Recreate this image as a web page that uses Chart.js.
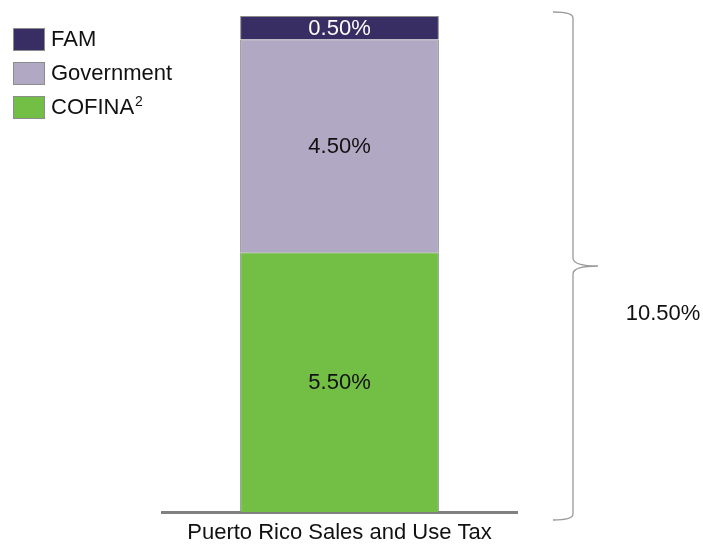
<!DOCTYPE html>
<html>
<head>
<meta charset="utf-8">
<script src="https://cdn.jsdelivr.net/npm/chart.js@4"></script>
<style>
  html, body { margin: 0; padding: 0; background: #fff; }
  #wrap { width: 703px; height: 547px; }
</style>
</head>
<body>
<div id="wrap"><canvas id="tax-chart" width="703" height="547"></canvas></div>
<script>
// Sales and use tax split
const categories = ['Puerto Rico Sales and Use Tax'];
const cofinaValues = [5.5];
const governmentValues = [4.5];
const famValues = [0.5];
const totalLabel = '10.50%';

const FONT = '"Liberation Sans", Arial, sans-serif';

// legend drawn by hand so the superscript on COFINA works
const legendPlugin = {
    id: 'handLegend',
    afterDraw(chart) {
        const ctx = chart.ctx;
        const items = [
            { text: 'FAM', sup: '', color: chart.data.datasets[2].backgroundColor },
            { text: 'Government', sup: '', color: chart.data.datasets[1].backgroundColor },
            { text: 'COFINA', sup: '2', color: chart.data.datasets[0].backgroundColor }
        ];
        ctx.save();
        items.forEach((it, i) => {
            const y = 28 + i * 34;
            ctx.fillStyle = it.color;
            ctx.fillRect(13, y, 32, 23);
            ctx.strokeStyle = '#8c8c8c';
            ctx.lineWidth = 1;
            ctx.strokeRect(13.5, y + 0.5, 31, 22);
            ctx.fillStyle = '#111';
            ctx.font = '22px ' + FONT;
            ctx.textBaseline = 'middle';
            ctx.textAlign = 'left';
            ctx.fillText(it.text, 51, y + 12);
            if (it.sup) {
                const w = ctx.measureText(it.text).width;
                ctx.font = '14px ' + FONT;
                ctx.fillText(it.sup, 51 + w + 1, y + 6);
            }
        });
        ctx.restore();
    }
};

// value labels inside segments
const valueLabels = {
    id: 'valueLabels',
    afterDatasetsDraw(chart) {
        const ctx = chart.ctx;
        ctx.save();
        ctx.font = '22px ' + FONT;
        ctx.textAlign = 'center';
        ctx.textBaseline = 'middle';
        chart.data.datasets.forEach((ds, i) => {
            chart.getDatasetMeta(i).data.forEach((el, j) => {
                ctx.fillStyle = i === 2 ? '#ffffff' : '#111111';
                ctx.fillText(ds.data[j].toFixed(2) + '%', el.x, (el.y + el.base) / 2 + 1);
            });
        });
        ctx.restore();
    }
};

// curly brace with total on the right
const bracePlugin = {
    id: 'brace',
    afterDraw(chart) {
        const ctx = chart.ctx;
        const area = chart.chartArea;
        const yScale = chart.scales.y;
        const top = yScale.getPixelForValue(yScale.max) - 4;
        const bottom = area.bottom + 8;
        const mid = (top + bottom) / 2;
        const x = area.right + 56;
        const x0 = x - 20;
        const tip = x + 25;
        ctx.save();
        ctx.strokeStyle = '#9a9a9a';
        ctx.lineWidth = 1.3;
        ctx.beginPath();
        ctx.moveTo(x0, top);
        ctx.quadraticCurveTo(x, top, x, top + 6);
        ctx.lineTo(x, mid - 8);
        ctx.quadraticCurveTo(x, mid, tip, mid);
        ctx.quadraticCurveTo(x, mid, x, mid + 8);
        ctx.lineTo(x, bottom - 6);
        ctx.quadraticCurveTo(x, bottom, x0, bottom);
        ctx.stroke();
        ctx.fillStyle = '#111';
        ctx.font = '22px ' + FONT;
        ctx.textAlign = 'center';
        ctx.textBaseline = 'middle';
        ctx.fillText(totalLabel, area.right + 146, mid + 48);
        ctx.restore();
    }
};

const taxCtx = document.getElementById('tax-chart').getContext('2d');
const taxChart = new Chart(taxCtx, {
    type: 'bar',
    data: {
        labels: categories,
        datasets: [{
            label: 'COFINA',
            data: cofinaValues,
            backgroundColor: '#73bf45',
            borderColor: '#8c8c8c',
            borderWidth: 1
        }, {
            label: 'Government',
            data: governmentValues,
            backgroundColor: '#b1a8c4',
            borderColor: '#8c8c8c',
            borderWidth: 1
        }, {
            label: 'FAM',
            data: famValues,
            backgroundColor: '#392e63',
            borderColor: '#8c8c8c',
            borderWidth: 1
        }]
    },
    options: {
        responsive: false,
        animation: false,
        layout: { padding: { left: 162, right: 186, top: 16, bottom: 0 } },
        datasets: { bar: { categoryPercentage: 1, barPercentage: 0.56 } },
        plugins: {
            legend: { display: false },
            tooltip: { enabled: false }
        },
        scales: {
            x: {
                stacked: true,
                grid: { display: false },
                border: { color: '#808080', width: 3 },
                ticks: { color: '#111', font: { family: FONT, size: 22 }, padding: 0 },
                afterFit: s => { s.height = 35; }
            },
            y: {
                stacked: true,
                display: false,
                min: 0,
                max: 10.5
            }
        }
    },
    plugins: [legendPlugin, valueLabels, bracePlugin]
});
</script>
</body>
</html>
